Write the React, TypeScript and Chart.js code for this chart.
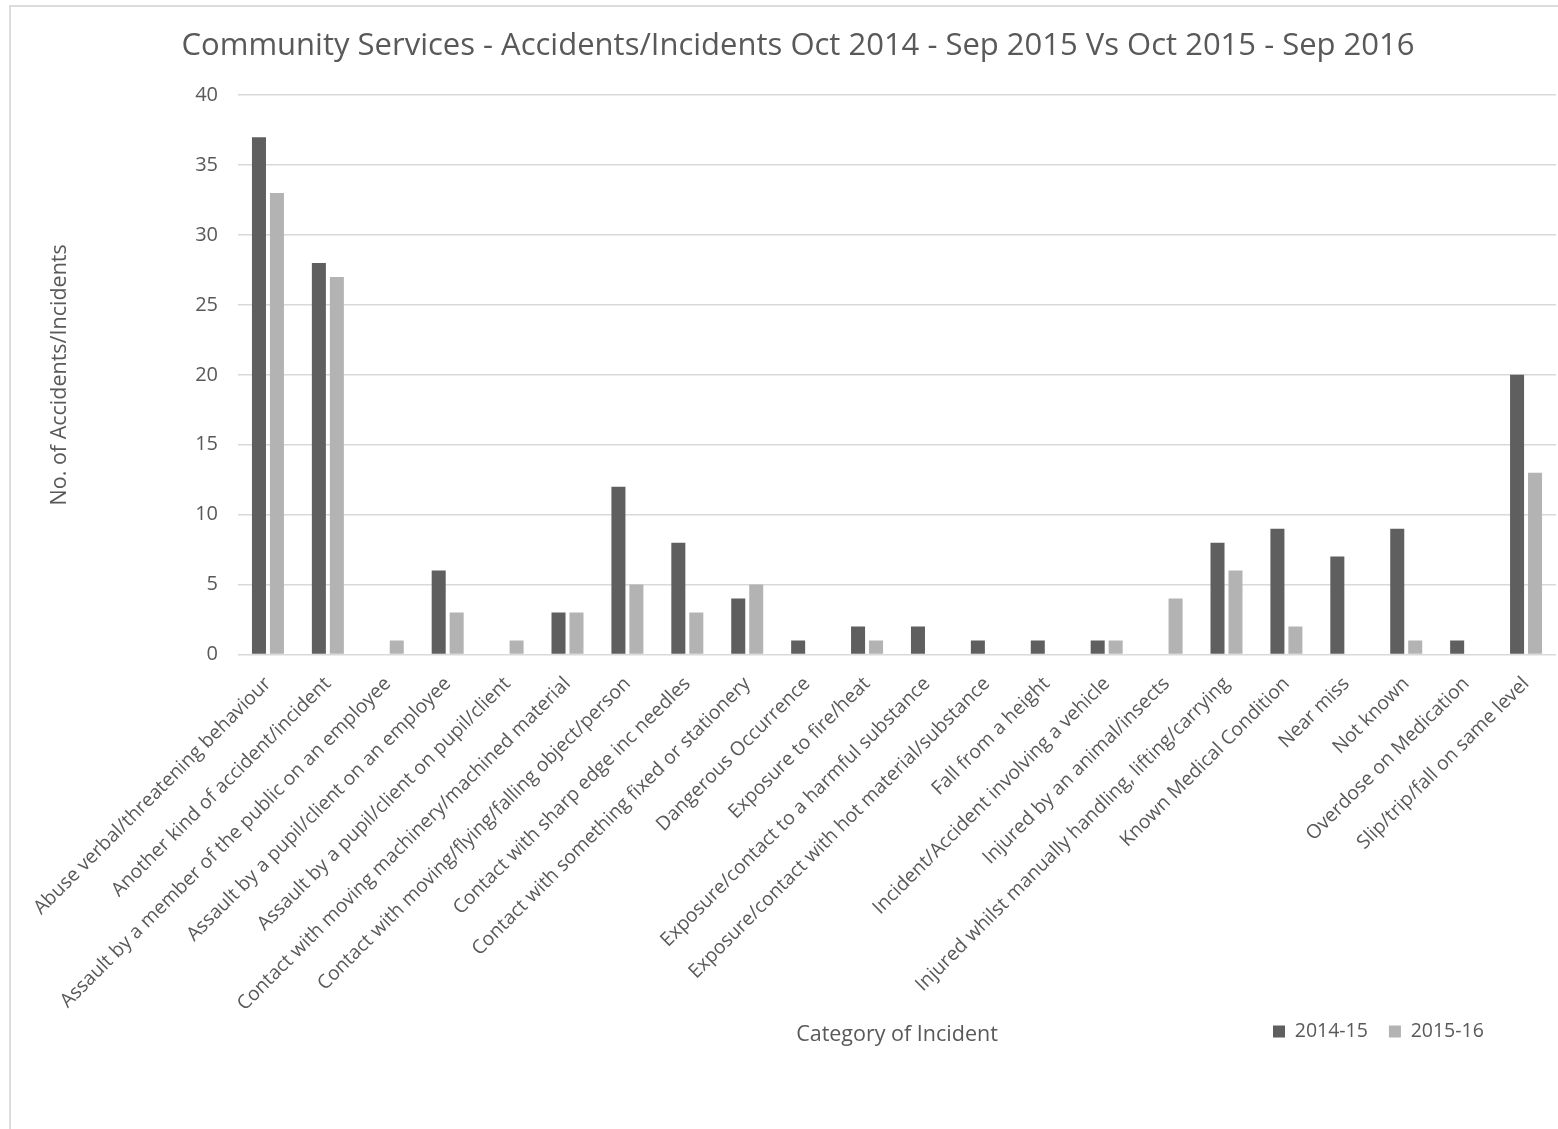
import { useEffect, useRef } from "react";
import { Chart, registerables } from "chart.js";

Chart.register(...registerables);

const categories = [
  "Abuse verbal/threatening behaviour",
  "Another kind of accident/incident",
  "Assault by a member of the public on an employee",
  "Assault by a pupil/client on an employee",
  "Assault by a pupil/client on pupil/client",
  "Contact with moving machinery/machined material",
  "Contact with moving/flying/falling object/person",
  "Contact with sharp edge inc needles",
  "Contact with something fixed or stationery",
  "Dangerous Occurrence",
  "Exposure to fire/heat",
  "Exposure/contact to a harmful substance",
  "Exposure/contact with hot material/substance",
  "Fall from a height",
  "Incident/Accident involving a vehicle",
  "Injured by an animal/insects",
  "Injured whilst manually handling, lifting/carrying",
  "Known Medical Condition",
  "Near miss",
  "Not known",
  "Overdose on Medication",
  "Slip/trip/fall on same level",
];

const values2014_15 = [37, 28, 0, 6, 0, 3, 12, 8, 4, 1, 2, 2, 1, 1, 1, 0, 8, 9, 7, 9, 1, 20];
const values2015_16 = [33, 27, 1, 3, 1, 3, 5, 3, 5, 0, 1, 0, 0, 0, 1, 4, 6, 2, 0, 1, 0, 13];

const seriesNames = ["2014-15", "2015-16"];
const seriesColors = ["#5f5f5f", "#b3b3b3"];

const chartTitle =
  "Community Services - Accidents/Incidents Oct 2014 - Sep 2015 Vs Oct 2015 - Sep 2016";
const yTitle = "No. of Accidents/Incidents";
const xTitle = "Category of Incident";
const yMin = 0;
const yMax = 40;
const yStep = 5;

const FONT = "'Open Sans', sans-serif";
const TEXT = "#595959";
const GRID = "#d9d9d9";

export default function App() {
  const ref = useRef<HTMLCanvasElement>(null);

  useEffect(() => {
    if (!ref.current) return;
    const legendMover = {
      id: "legendMover",
      afterLayout(chart: any) {
        const lg = chart.legend;
        if (!lg) return;
        const h = lg.height;
        lg.top = 1026 - h / 2;
        lg.bottom = lg.top + h;
        lg.left = 1252;
        lg.right = chart.width;
        lg.width = lg.right - lg.left;
      },
    };
    const chart = new Chart(ref.current, {
      type: "bar",
      data: {
        labels: categories,
        datasets: [
          {
            label: seriesNames[0],
            data: values2014_15,
            backgroundColor: seriesColors[0],
            categoryPercentage: 0.6,
            barPercentage: 0.78,
          },
          {
            label: seriesNames[1],
            data: values2015_16,
            backgroundColor: seriesColors[1],
            categoryPercentage: 0.6,
            barPercentage: 0.78,
          },
        ],
      },
      options: {
        responsive: false,
        animation: false,
        devicePixelRatio: 1,
        layout: { padding: { left: 40, right: 2, top: 0, bottom: 31 } },
        plugins: {
          title: {
            display: true,
            text: chartTitle,
            color: TEXT,
            font: { family: FONT, size: 31, weight: "normal" },
            padding: { top: 28, bottom: 30 },
          },
          legend: {
            display: true,
            position: "bottom",
            align: "start",
            labels: {
              color: TEXT,
              font: { family: FONT, size: 19.5 },
              boxWidth: 12,
              boxHeight: 12,
              padding: 21,
            },
          },
          tooltip: { enabled: false },
        },
        scales: {
          x: {
            grid: { display: false },
            border: { display: false },
            ticks: {
              color: TEXT,
              font: { family: FONT, size: 19.4 },
              maxRotation: 45,
              minRotation: 45,
              autoSkip: false,
              padding: 10,
            },
            title: {
              display: true,
              text: xTitle,
              color: TEXT,
              font: { family: FONT, size: 21.5 },
              padding: { top: 0, bottom: 0 },
            },
            afterFit(scale: any) {
              scale.height = 393;
            },
          },
          y: {
            min: yMin,
            max: yMax,
            grid: { color: GRID, lineWidth: 1.5, drawTicks: false },
            border: { display: false },
            ticks: {
              stepSize: yStep,
              color: TEXT,
              font: { family: FONT, size: 20 },
              padding: 20,
            },
            title: {
              display: true,
              text: yTitle,
              color: TEXT,
              font: { family: FONT, size: 21.5 },
              padding: { top: 7, bottom: 0 },
            },
            afterFit(scale: any) {
              scale.width = 198;
            },
          },
        },
      },
      plugins: [legendMover],
    });
    return () => chart.destroy();
  }, []);

  return (
    <div
      style={{
        position: "fixed",
        left: 0,
        top: 0,
        width: 1558,
        height: 1129,
        overflow: "hidden",
        background: "#ffffff",
      }}
    >
      <div
        style={{
          position: "absolute",
          left: 9,
          top: 5,
          width: 1600,
          height: 1200,
          border: "2px solid #dcdcdc",
          boxSizing: "border-box",
        }}
      />
      <canvas
        ref={ref}
        width={1558}
        height={1129}
        style={{ position: "absolute", left: 0, top: 0, width: 1558, height: 1129 }}
      />
    </div>
  );
}
